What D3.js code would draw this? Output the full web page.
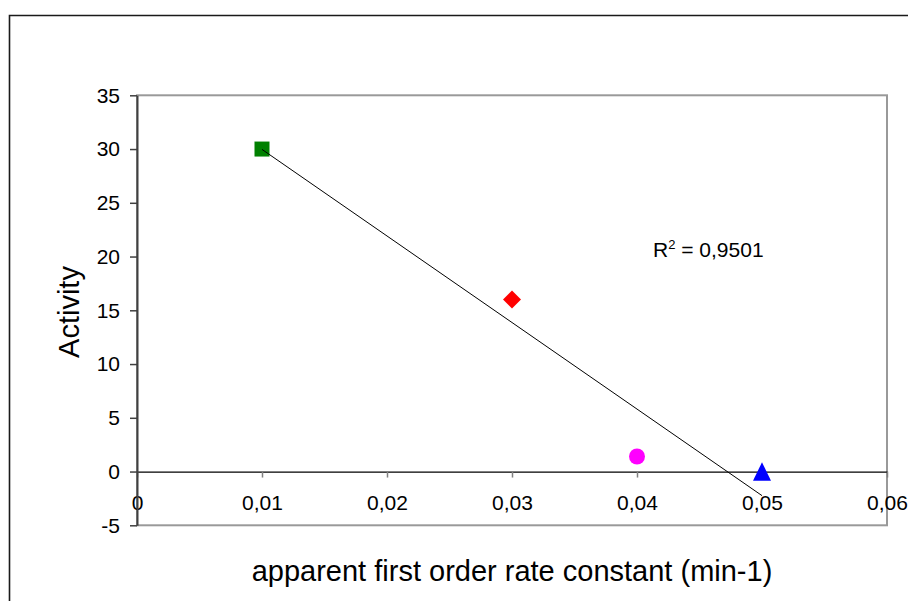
<!DOCTYPE html>
<html><head><meta charset="utf-8">
<script src="https://cdn.jsdelivr.net/npm/d3@7"></script>
<style>
body{margin:0;background:#fff}
svg{display:block}
text{font-family:Arial,"Liberation Sans",sans-serif;fill:#000}
</style>
</head><body>
<svg id="chart" width="908" height="601"></svg>
<script>
// ---- data ----
const xValues = [0.01, 0.03, 0.04, 0.05];
const yValues = [30, 16, 1.4, 0];
const markerShapes = ["square", "diamond", "circle", "triangle"];
const markerColors = ["#008000", "#ff0000", "#ff00ff", "#0000ff"];
const xTicks = [0, 0.01, 0.02, 0.03, 0.04, 0.05, 0.06];
const xTickLabels = ["0", "0,01", "0,02", "0,03", "0,04", "0,05", "0,06"];
const yTicks = [-5, 0, 5, 10, 15, 20, 25, 30, 35];
const yTickLabels = ["-5", "0", "5", "10", "15", "20", "25", "30", "35"];
const xTitle = "apparent first order rate constant (min-1)";
const yTitle = "Activity";
const r2Text = "0,9501";

// ---- layout ----
const svg = d3.select("#chart");
const plot = {left: 137, right: 887, top: 95.3, bottom: 525.3};
const x = d3.scaleLinear().domain([0, 0.06]).range([plot.left, plot.right]);
const y = d3.scaleLinear().domain([-5, 35]).range([plot.bottom, plot.top]);
const FONT = "Arial, 'Liberation Sans', sans-serif";

svg.append("rect").attr("width", 908).attr("height", 601).attr("fill", "#fff");

// outer chart frame (extends off page right/bottom)
svg.append("path")
  .attr("d", "M9.5,601 L9.5,15.5 L908,15.5")
  .attr("fill", "none").attr("stroke", "#1a1a1a").attr("stroke-width", 1.6);

// plot area border
svg.append("rect")
  .attr("x", plot.left).attr("y", plot.top)
  .attr("width", plot.right - plot.left).attr("height", plot.bottom - plot.top)
  .attr("fill", "none").attr("stroke", "#999").attr("stroke-width", 2);

// x axis at y = 0
const xAxis = d3.axisBottom(x).tickValues(xTicks)
  .tickFormat((d, i) => xTickLabels[i]).tickSize(6).tickSizeOuter(0).tickPadding(17.5);
const gx = svg.append("g").attr("transform", `translate(0,${y(0)})`).call(xAxis);
gx.select(".domain").attr("stroke", "#000").attr("stroke-width", 1.2);
gx.selectAll(".tick line").attr("stroke", "#808080").attr("stroke-width", 1.5);
gx.selectAll(".tick text").attr("font-size", 21).attr("font-family", FONT).attr("fill", "#000");

// y axis
const yAxis = d3.axisLeft(y).tickValues(yTicks)
  .tickFormat((d, i) => yTickLabels[i]).tickSize(7).tickSizeOuter(0).tickPadding(10);
const gy = svg.append("g").attr("transform", `translate(${plot.left},0)`).call(yAxis);
gy.select(".domain").attr("stroke", "#404040").attr("stroke-width", 2);
gy.selectAll(".tick line").attr("stroke", "#404040").attr("stroke-width", 1.5);
gy.selectAll(".tick text").attr("font-size", 21).attr("font-family", FONT).attr("fill", "#000");

// markers
function markerPath(shape) {
  if (shape === "square") return d3.symbol(d3.symbolSquare, 225)();
  if (shape === "circle") return d3.symbol(d3.symbolCircle, Math.PI * 64)();
  if (shape === "diamond") {
    const p = d3.path(); const r = 9;
    p.moveTo(0, -r); p.lineTo(r, 0); p.lineTo(0, r); p.lineTo(-r, 0); p.closePath();
    return p.toString();
  }
  const p = d3.path(); const w = 9, h = 9.3;
  p.moveTo(0, -h); p.lineTo(w, h); p.lineTo(-w, h); p.closePath();
  return p.toString();
}
svg.append("g").selectAll("path").data(xValues).join("path")
  .attr("transform", (d, i) => `translate(${x(d)},${y(yValues[i])})`)
  .attr("d", (d, i) => markerPath(markerShapes[i]))
  .attr("fill", (d, i) => markerColors[i]);

// linear trend line (least squares through the points)
const mx = d3.mean(xValues), my = d3.mean(yValues);
const sxy = d3.sum(xValues, (d, i) => (d - mx) * (yValues[i] - my));
const sxx = d3.sum(xValues, d => (d - mx) ** 2);
const slope = sxy / sxx, intercept = my - slope * mx;
const [x0, x1] = d3.extent(xValues);
svg.append("line")
  .attr("x1", x(x0)).attr("y1", y(intercept + slope * x0))
  .attr("x2", x(x1)).attr("y2", y(intercept + slope * x1))
  .attr("stroke", "#000").attr("stroke-width", 1);

// R² label
const r2 = svg.append("text").attr("x", 653).attr("y", 257).attr("font-size", 21);
r2.append("tspan").text("R");
r2.append("tspan").attr("font-size", 13).attr("dy", -8).text("2");
r2.append("tspan").attr("dy", 8).text(" = " + r2Text);

// axis titles
svg.append("text").attr("x", 512).attr("y", 581).attr("text-anchor", "middle")
  .attr("font-size", 29).text(xTitle);
svg.append("text").attr("transform", "translate(79,312) rotate(-90)")
  .attr("text-anchor", "middle").attr("font-size", 29).text(yTitle);
</script>
</body></html>
